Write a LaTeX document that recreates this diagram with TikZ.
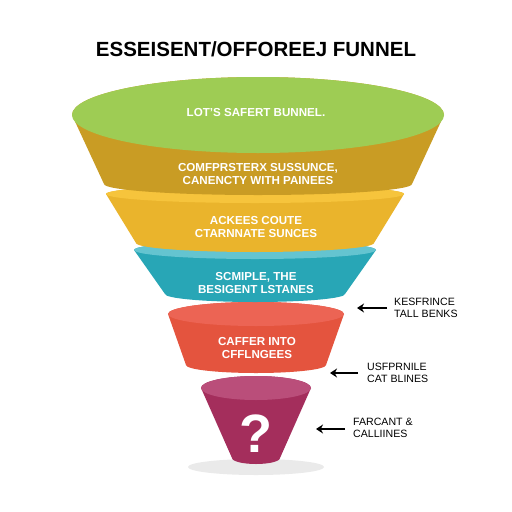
\documentclass[tikz,border=0pt]{standalone}
\usepackage{fontspec}
\setmainfont{Liberation Sans}
\usetikzlibrary{arrows.meta}
\definecolor{cgreen}{RGB}{158,204,84}
\definecolor{colive}{RGB}{201,156,36}
\definecolor{cyellow}{RGB}{234,180,44}
\definecolor{cyellowtop}{RGB}{246,196,60}
\definecolor{cteal}{RGB}{40,166,182}
\definecolor{ctealtop}{RGB}{100,196,208}
\definecolor{ccoral}{RGB}{228,84,62}
\definecolor{ccoraltop}{RGB}{236,100,84}
\definecolor{cplum}{RGB}{164,46,92}
\definecolor{cplumtop}{RGB}{186,78,122}
\definecolor{cshadow}{RGB}{234,234,234}
\newcommand{\funnelband}[9]{%
  \fill[#8] (#1-#3,#2) -- (#1-#6,#5)
    arc[start angle=180,end angle=0,x radius=#6,y radius=#7]
    -- (#1+#3,#2)
    arc[start angle=0,end angle=-180,x radius=#3,y radius=#4] -- cycle;
  \fill[#9] (#1,#2) ellipse[x radius=#3,y radius=#4];
}
\tikzset{
  bandtext/.style={text=white,font=\fontsize{11.6}{13.5}\selectfont\bfseries,align=center,inner sep=1pt},
  notetext/.style={text=black,font=\fontsize{10.6}{11.5}\selectfont,align=left,anchor=west,inner sep=0pt},
  arr/.style={line width=2pt,-{Stealth[length=7pt,width=9pt]}}
}
\begin{document}
\begin{tikzpicture}[x=1pt,y=-1pt]
\useasboundingbox[fill=white] (0,0) rectangle (512,512);
% shadow
\fill[cshadow] (256,467) ellipse[x radius=68,y radius=8];
% plum layer
\funnelband{256}{388}{55}{12}{458}{24}{6}{cplum}{cplumtop}
% coral layer
\funnelband{256}{314}{88}{12}{365}{70}{8}{ccoral}{ccoraltop}
% teal layer
\funnelband{255}{250}{121}{9}{294}{90}{8}{cteal}{ctealtop}
% yellow layer
\funnelband{255}{194}{149}{9}{243}{119}{9}{cyellow}{cyellowtop}
% olive / green layer
\funnelband{258}{115}{186}{38}{184}{154}{11}{colive}{cgreen}
% title
\node[font=\fontsize{20.5}{22}\selectfont\bfseries] (title) at (256,49) {ESSEISENT/OFFOREEJ FUNNEL};
% band texts
\node[bandtext] (t1) at (256,113) {LOT'S SAFERT BUNNEL.};
\node[bandtext] (t2) at (258,174) {COMFPRSTERX SUSSUNCE,\\CANENCTY WITH PAINEES};
\node[bandtext] (t3) at (256,227) {ACKEES COUTE\\CTARNNATE SUNCES};
\node[bandtext] (t4) at (256,283) {SCMIPLE, THE\\BESIGENT LSTANES};
\node[bandtext] (t5) at (257,348) {CAFFER INTO\\CFFLNGEES};
\node[text=white,font=\fontsize{54}{54}\selectfont\bfseries] (q) at (256,434) {?};
% notes
\node[notetext] (n1) at (394,308) {KESFRINCE\\TALL BENKS};
\node[notetext] (n2) at (367,373) {USFPRNILE\\CAT BLINES};
\node[notetext] (n3) at (353,428) {FARCANT \&\\CALLIINES};
\coordinate (a1) at (387,308); \coordinate (p1) at (357,308);
\coordinate (a2) at (358,373); \coordinate (p2) at (330,373);
\coordinate (a3) at (345,429); \coordinate (p3) at (316,429);
\draw[arr] (a1) -- (p1);
\draw[arr] (a2) -- (p2);
\draw[arr] (a3) -- (p3);
\end{tikzpicture}
\end{document}
